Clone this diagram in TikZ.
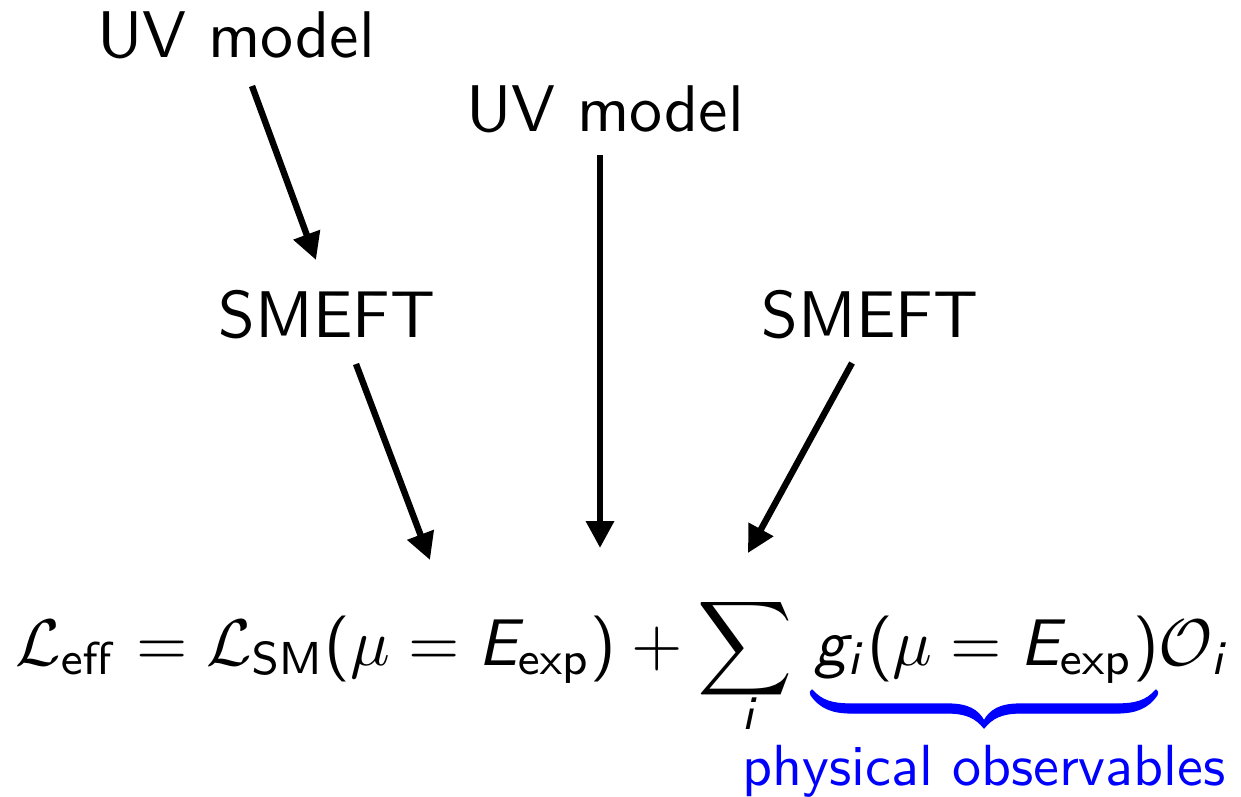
\documentclass[tikz,border=0pt]{standalone}
\usetikzlibrary{arrows.meta}
\renewcommand\familydefault{\sfdefault}
\SetSymbolFont{operators}{normal}{OT1}{cmss}{m}{n}
\DeclareMathAlphabet{\mathsfsl}{OT1}{cmss}{m}{sl}
\newcommand\sE{\mathsfsl{E}}
\newcommand\sg{\mathsfsl{g}}
\newcommand\si{\mathsfsl{i}}
\begin{document}
\begin{tikzpicture}[x=0.5pt,y=-0.5pt,
  lbl/.style={inner sep=0pt,anchor=base,scale=3.3,transform shape,font=\sffamily},
  obslbl/.style={inner sep=0pt,anchor=base,text=blue,scale=2.9,transform shape,font=\sffamily},
  arr/.style={line width=3.2pt,-{Triangle[length=13.5pt,width=13.5pt]}},
  bracefill/.style={fill=blue,draw=blue,line width=0.6pt,line join=round}]
\useasboundingbox (0,0) rectangle (1241,797);
\node[lbl] (uv1) at (236,58) {UV model};
\node[lbl] (uv2) at (605,132) {UV model};
\node[lbl] (sm1) at (327,337) {SMEFT};
\node[lbl] (sm2) at (870,337) {SMEFT};
\node[lbl,anchor=base west] (eq) at (14,665) {$\displaystyle
  \mathcal{L}_{\mathrm{eff}} = \mathcal{L}_{\mathrm{SM}}(\mu = \sE_{\mathrm{exp}}) + \sum\,
  \sg_{\si}(\mu = \sE_{\mathrm{exp}})\mathcal{O}_{\si}$};
\node[lbl] (sumidx) at (750,729) {$\scriptstyle\si$};
\node[obslbl] (obs) at (984,785) {physical observables};
% blue brace under g_i(mu = E_exp)
\fill[bracefill] (812,690)
  .. controls (822,701) and (832,704) .. (852,704) -- (948,704)
  .. controls (968,704) and (978,710) .. (984,721)
  .. controls (990,710) and (1000,704) .. (1020,704) -- (1116,704)
  .. controls (1136,704) and (1146,701) .. (1156,690)
  .. controls (1158,691) and (1158,693) .. (1157,695)
  .. controls (1148,708) and (1136,713) .. (1116,713) -- (1020,713)
  .. controls (1002,713) and (992,718) .. (984,728)
  .. controls (976,718) and (966,713) .. (948,713) -- (852,713)
  .. controls (832,713) and (820,708) .. (811,695)
  .. controls (810,693) and (810,691) .. (812,690) -- cycle;
\coordinate (a1s) at (252,86);  \coordinate (a1e) at (316,260);
\coordinate (a2s) at (600,155); \coordinate (a2e) at (600,548);
\coordinate (a3s) at (356,364); \coordinate (a3e) at (430,560);
\coordinate (a4s) at (852,363); \coordinate (a4e) at (748,553);
\draw[arr] (a1s) -- (a1e);
\draw[arr] (a2s) -- (a2e);
\draw[arr] (a3s) -- (a3e);
\draw[arr] (a4s) -- (a4e);
\end{tikzpicture}
\end{document}
